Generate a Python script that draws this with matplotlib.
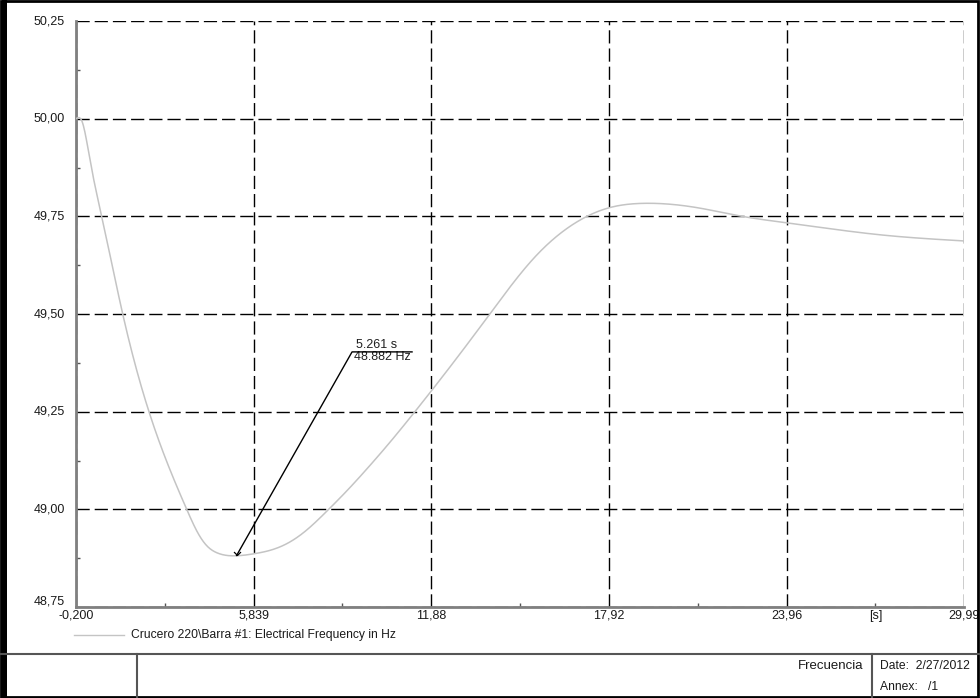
import numpy as np
import matplotlib.pyplot as plt
from matplotlib.lines import Line2D
from matplotlib.patches import Rectangle
from matplotlib.ticker import FixedLocator

plt.rcParams['font.family'] = ['Liberation Sans', 'DejaVu Sans']

# data
time_s = [-0.2, 0.0, 0.276, 0.674, 1.388, 2.281, 3.564, 3.904, 4.244, 4.584, 5.206,
          5.829, 6.396, 6.964, 7.529, 8.324, 9.004, 9.684, 10.477, 11.269, 12.51,
          13.84, 15.33, 17.20, 17.88, 18.97, 19.55, 21.01, 22.37, 24.0, 27.23, 29.99]
freq_hz = [50.0, 49.994, 49.894, 49.75, 49.50, 49.25, 49.00, 48.945, 48.907, 48.889, 48.881,
           48.886, 48.895, 48.912, 48.940, 48.995, 49.047, 49.103, 49.172, 49.245, 49.364,
           49.497, 49.640, 49.751, 49.771, 49.783, 49.783, 49.771, 49.751, 49.733, 49.702, 49.687]

x_ticks = [-0.2, 5.839, 11.88, 17.92, 23.96, 29.99]
x_labels = ["-0,200", "5,839", "11,88", "17,92", "23,96", "29,99"]
y_ticks = [48.75, 49.00, 49.25, 49.50, 49.75, 50.00, 50.25]
y_labels = ["48,75", "49,00", "49,25", "49,50", "49,75", "50,00", "50,25"]

marker_t, marker_f = 5.261, 48.882
label_t, label_f, label_end_t = 9.185, 49.403, 11.225


def natural_spline(x, y, xs):
    x = np.asarray(x, float)
    y = np.asarray(y, float)
    n = len(x)
    h = np.diff(x)
    A = np.zeros((n, n))
    b = np.zeros(n)
    A[0, 0] = A[-1, -1] = 1
    for i in range(1, n - 1):
        A[i, i - 1] = h[i - 1]
        A[i, i] = 2 * (h[i - 1] + h[i])
        A[i, i + 1] = h[i]
        b[i] = 3 * ((y[i + 1] - y[i]) / h[i] - (y[i] - y[i - 1]) / h[i - 1])
    c = np.linalg.solve(A, b)
    k = np.clip(np.searchsorted(x, xs) - 1, 0, n - 2)
    bb = (y[1:] - y[:-1]) / h - h * (2 * c[:-1] + c[1:]) / 3
    dd = (c[1:] - c[:-1]) / (3 * h)
    dx = xs - x[k]
    return y[k] + bb[k] * dx + c[k] * dx**2 + dd[k] * dx**3


W, H = 980, 698
fig = plt.figure(figsize=(W / 100, H / 100), dpi=100)
ax = fig.add_axes([76 / W, 1 - 607 / H, (964 - 76) / W, (607 - 21) / H])

tt = np.linspace(time_s[0], time_s[-1], 1200)
ax.plot(tt, natural_spline(time_s, freq_hz, tt), color='#c4c4c4', lw=1.1, zorder=3)

ax.set_xlim(x_ticks[0], x_ticks[-1])
ax.set_ylim(y_ticks[0], y_ticks[-1])
ax.set_xticks(x_ticks)
ax.set_xticklabels(x_labels)
ax.set_yticks(y_ticks)
ax.set_yticklabels(y_labels)
x_minor = [(a + b) / 2 for a, b in zip(x_ticks[:-1], x_ticks[1:])]
y_minor = [(a + b) / 2 for a, b in zip(y_ticks[:-1], y_ticks[1:])]
ax.xaxis.set_minor_locator(FixedLocator(x_minor))
ax.yaxis.set_minor_locator(FixedLocator(y_minor))
ax.tick_params(which='major', length=0, labelsize=9, labelcolor='#1a1a1a')
ax.tick_params(axis='y', which='major', pad=8)
ax.tick_params(axis='x', which='major', pad=2)
ax.tick_params(which='minor', direction='in', length=3, width=1, color='#555555')
for lab in ax.get_yticklabels():
    lab.set_verticalalignment('center')
ax.get_yticklabels()[0].set_verticalalignment('bottom')

ax.grid(True, which='major', color='black', ls=(0, (9.5, 3.6)), lw=1)
for side in ['top', 'right']:
    ax.spines[side].set_visible(False)
for side in ['left', 'bottom']:
    ax.spines[side].set_color('#808080')
    ax.spines[side].set_linewidth(2)

ax.annotate("[s]", xy=(x_minor[-1], y_ticks[0]), xytext=(0, -2.5), textcoords='offset points',
            ha='center', va='top', fontsize=9, color='#1a1a1a')

# marker annotation
ax.plot([marker_t, label_t, label_end_t], [marker_f, label_f, label_f], color='black', lw=1, zorder=4)
ax.plot([marker_t], [marker_f], marker=[(-1, 1), (0, 0), (1, 1)], color='black',
        ms=5, mew=0.9, fillstyle='none', zorder=4)
ax.text(label_t + 0.15, label_f + 0.003, "5.261 s", fontsize=9, va='bottom', ha='left', color='#202020')
ax.text(label_t + 0.05, label_f + 0.002, "48.882 Hz", fontsize=9, va='top', ha='left', color='#202020')

# legend line under the plot
fig.add_artist(Line2D([74 / W, 124 / W], [1 - 635 / H] * 2, color='#c4c4c4', lw=1))
fig.text(131 / W, 1 - 635 / H, "Crucero 220\\Barra #1: Electrical Frequency in Hz",
         fontsize=8.7, va='center', ha='left', color='#1a1a1a')

# title block
fig.add_artist(Line2D([0, 1], [1 - 654 / H] * 2, color='#555555', lw=1.5))
fig.add_artist(Line2D([137 / W] * 2, [0, 1 - 654 / H], color='#555555', lw=1.5))
fig.add_artist(Line2D([872 / W] * 2, [0, 1 - 654 / H], color='#555555', lw=1.5))
fig.text(863 / W, 1 - 666 / H, "Frecuencia", fontsize=9.5, ha='right', va='center', color='#1a1a1a')
fig.text(880 / W, 1 - 666 / H, "Date:  2/27/2012", fontsize=8.7, ha='left', va='center', color='#1a1a1a')
fig.text(880 / W, 1 - 687 / H, "Annex:   /1", fontsize=8.7, ha='left', va='center', color='#1a1a1a')

# outer border
fig.add_artist(Rectangle((1 / W, 1 / H), 977 / W, 696 / H, transform=fig.transFigure,
                         fill=False, ec='black', lw=2))
fig.add_artist(Rectangle((2 / W, 0), 5 / W, 1, transform=fig.transFigure, color='black', lw=0))

fig.savefig("out.png", dpi=100)
